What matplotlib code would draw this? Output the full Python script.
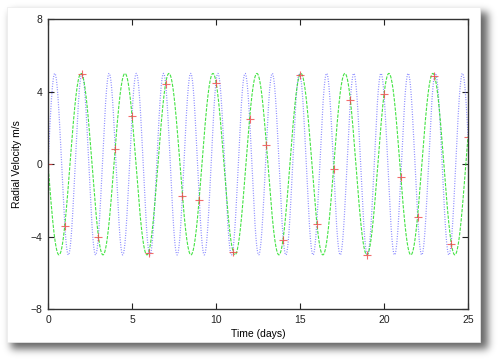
import numpy as np
import matplotlib
matplotlib.use('Agg')
import matplotlib.pyplot as plt
from matplotlib.patches import Rectangle

days = list(range(26))
rv = [0.0, -3.43, 4.99, -4.03, 0.85, 2.65, -4.9, 4.44, -1.77, -1.95,
      4.5, -4.85, 2.47, 1.03, -4.16, 4.92, -3.28, -0.24, 3.52, -5.03,
      3.85, -0.7, -2.91, 4.86, -4.4, 1.49]

# the two model curves that fit the samples
amplitude = 5.0
period_green = 2.618   # days
period_blue = 1.618    # days (alias)
t_start, t_end = 0, 25

xticks = [0, 5, 10, 15, 20, 25]
yticks = [-8, -4, 0, 4, 8]

plt.rcParams['font.family'] = ['Liberation Sans', 'DejaVu Sans']

W, H = 500, 362
fig = plt.figure(figsize=(W / 100, H / 100), dpi=100)

# blurred drop shadow under the white card (pixel coords, top-left origin)
def blur1d(a, sigma, axis):
    k = np.arange(-3 * sigma, 3 * sigma + 1)
    k = np.exp(-k ** 2 / (2.0 * sigma ** 2))
    k /= k.sum()
    return np.apply_along_axis(lambda v: np.convolve(v, k, mode='same'), axis, a)

mask = np.zeros((H, W))
mask[12:349, 11:488] = 1.0
mask = blur1d(blur1d(mask, 4, 0), 4, 1)
shadow = np.zeros((H, W, 4))
shadow[..., 3] = 0.6 * mask
fig.figimage(shadow, 0, 0, origin='upper', zorder=0)

card_x0, card_y0, card_x1, card_y1 = 7, 7, 480, 342
fig.patches.append(Rectangle((card_x0 / W, 1 - card_y1 / H),
                             (card_x1 - card_x0) / W, (card_y1 - card_y0) / H,
                             transform=fig.transFigure, facecolor='white',
                             edgecolor='#ececec', linewidth=0.5, zorder=1))

ax = fig.add_axes([48 / W, 1 - 309.3 / H, 420 / W, 290.3 / H])
ax.set_zorder(2)
ax.patch.set_alpha(0)

t = np.linspace(t_start, t_end, 3000)
ax.plot(t, amplitude * np.sin(2 * np.pi * t / period_blue), color='#5050ff',
        linestyle=(0, (0.7, 1.3)), linewidth=0.9, alpha=0.75)
ax.plot(t, -amplitude * np.sin(2 * np.pi * t / period_green), color='#30e030',
        linestyle=(0, (3, 1.2)), linewidth=0.8, alpha=0.9)
ax.plot(days, rv, '+', color='#f04848', markersize=6, markeredgewidth=0.8,
        alpha=0.8)

ax.set_xlim(t_start, t_end)
ax.set_ylim(-8, 8)
ax.set_xticks(xticks)
ax.set_yticks(yticks)
ax.tick_params(direction='in', length=4, width=0.8, labelsize=7.5,
               top=True, right=True, colors='#222222', pad=4)
for s in ax.spines.values():
    s.set_linewidth(1.0)
    s.set_color('#333333')

ax.set_xlabel('Time (days)', fontsize=7.5, labelpad=3)
ax.set_ylabel('Radial Velocity m/s', fontsize=7.5, labelpad=6)

fig.savefig('out.png', dpi=100)
